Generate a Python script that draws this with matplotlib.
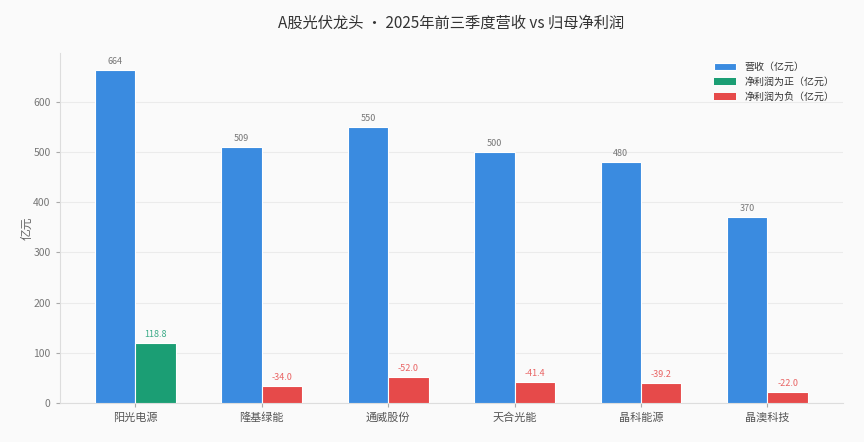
import matplotlib
matplotlib.use("Agg")
import matplotlib.pyplot as plt
import numpy as np

plt.rcParams['font.family'] = ['Noto Sans CJK SC', 'DejaVu Sans']

companies = ['阳光电源', '隆基绿能', '通威股份', '天合光能', '晶科能源', '晶澳科技']
revenue = [664, 509, 550, 500, 480, 370]
net_profit = [118.8, -34.0, -52.0, -41.4, -39.2, -22.0]

blue = '#3a8be0'
green = '#1b9e74'
red = '#e64a4a'
bg = '#fafafa'

fig = plt.figure(figsize=(8.64, 4.42), dpi=100, facecolor=bg)
ax = fig.add_axes([0.069, 0.088, 0.907, 0.792], facecolor=bg)

x = np.arange(len(companies))
w = 0.32

ax.bar(x - w / 2, revenue, w, color=blue, edgecolor='white', linewidth=0.8,
       label='营收（亿元）', zorder=3)
profit_colors = [green if v >= 0 else red for v in net_profit]
ax.bar(x + w / 2, np.abs(net_profit), w, color=profit_colors, edgecolor='white',
       linewidth=0.8, zorder=3)

# legend proxies
ax.bar([0], [0], color=green, label='净利润为正（亿元）')
ax.bar([0], [0], color=red, label='净利润为负（亿元）')

for xi, v in zip(x, revenue):
    ax.text(xi - w / 2, v + 8, f'{v}', ha='center', va='bottom',
            fontsize=6.5, color='#777777')
for xi, v, c in zip(x, net_profit, profit_colors):
    ax.text(xi + w / 2, abs(v) + 8, f'{v:.1f}', ha='center', va='bottom',
            fontsize=6.5, color=c, alpha=0.85)

ax.set_xticks(x)
ax.set_xticklabels(companies, fontsize=8, color='#555555')
ax.set_xlim(-0.6, 5.6)
ax.set_ylim(0, 697)
ax.set_yticks([0, 100, 200, 300, 400, 500, 600])
ax.tick_params(axis='y', labelsize=7.5, colors='#777777', length=3, color='#aaaaaa')
ax.tick_params(axis='x', length=3, color='#aaaaaa')
ax.set_ylabel('亿元', fontsize=8.5, color='#666666', labelpad=0)

ax.grid(axis='y', color='#ebebeb', linewidth=0.8, zorder=0)
ax.set_axisbelow(True)
for s in ['top', 'right']:
    ax.spines[s].set_visible(False)
for s in ['left', 'bottom']:
    ax.spines[s].set_color('#dddddd')

ax.set_title('A股光伏龙头 · 2025年前三季度营收 vs 归母净利润', fontsize=11,
             color='#333333', pad=18)

ax.legend(loc='upper right', fontsize=7.2, frameon=False, handlelength=2.2,
          labelcolor='#333333')

fig.savefig('out.png', dpi=100, facecolor=bg)
